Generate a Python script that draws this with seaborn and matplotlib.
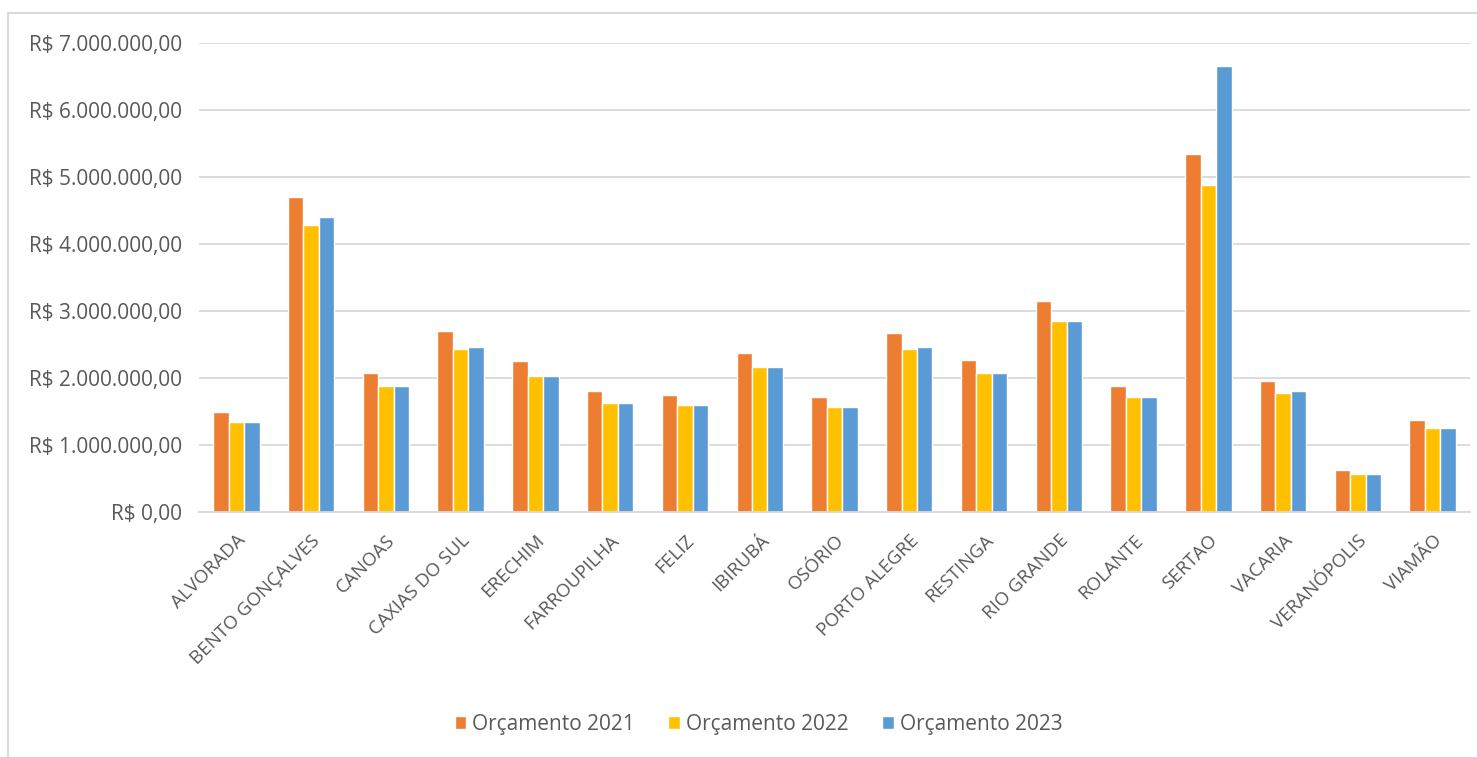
import pandas as pd
import seaborn as sns
import matplotlib.pyplot as plt
from matplotlib.lines import Line2D
from matplotlib.ticker import FuncFormatter

# Campus names and budgets (R$)
campus = ["ALVORADA", "BENTO GONÇALVES", "CANOAS", "CAXIAS DO SUL", "ERECHIM",
          "FARROUPILHA", "FELIZ", "IBIRUBÁ", "OSÓRIO", "PORTO ALEGRE",
          "RESTINGA", "RIO GRANDE", "ROLANTE", "SERTAO", "VACARIA",
          "VERANÓPOLIS", "VIAMÃO"]
orc_2021 = [1.50e6, 4.70e6, 2.07e6, 2.70e6, 2.25e6, 1.80e6, 1.74e6, 2.37e6, 1.71e6,
            2.67e6, 2.27e6, 3.15e6, 1.885e6, 5.35e6, 1.95e6, 0.63e6, 1.38e6]
orc_2022 = [1.34e6, 4.28e6, 1.885e6, 2.43e6, 2.03e6, 1.62e6, 1.59e6, 2.16e6, 1.56e6,
            2.43e6, 2.07e6, 2.85e6, 1.71e6, 4.88e6, 1.78e6, 0.57e6, 1.26e6]
orc_2023 = [1.35e6, 4.40e6, 1.885e6, 2.46e6, 2.03e6, 1.62e6, 1.59e6, 2.16e6, 1.56e6,
            2.46e6, 2.07e6, 2.85e6, 1.71e6, 6.65e6, 1.80e6, 0.57e6, 1.26e6]
series = ["Orçamento 2021", "Orçamento 2022", "Orçamento 2023"]
colors = ["#ED7D31", "#FFC000", "#5B9BD5"]

rows = []
for nome, vals in zip(series, [orc_2021, orc_2022, orc_2023]):
    for c, v in zip(campus, vals):
        rows.append({"Campus": c, "Orçamento": nome, "Valor": v})
df = pd.DataFrame(rows)

sns.set_style("white")
plt.rcParams['font.family'] = ['Open Sans', 'DejaVu Sans']
txt = "#595959"

fig = plt.figure(figsize=(14.77, 7.57), dpi=100)
ax = fig.add_axes([199 / 1477, 1 - 512 / 757, (1470 - 199) / 1477, (512 - 43) / 757])

sns.barplot(data=df, x="Campus", y="Valor", hue="Orçamento", palette=colors,
            saturation=1, width=0.62, edgecolor="white", linewidth=1, ax=ax)

ax.set_ylim(0, 7e6)
ax.set_yticks([i * 1e6 for i in range(8)])


def real(v, pos):
    s = f"{v:,.2f}".replace(",", "X").replace(".", ",").replace("X", ".")
    return "R$ " + s


ax.yaxis.set_major_formatter(FuncFormatter(real))
ax.grid(axis="y", color="#D9D9D9", linewidth=1.3)
ax.set_axisbelow(True)
for s in ["top", "right", "left"]:
    ax.spines[s].set_visible(False)
ax.spines["bottom"].set_color("#D9D9D9")
ax.spines["bottom"].set_linewidth(1.3)
ax.tick_params(axis="both", length=0, colors=txt)
ax.tick_params(axis="y", pad=12, labelsize=15)
ax.tick_params(axis="x", pad=14, labelsize=13.5)
ax.set_xlabel("")
ax.set_ylabel("")
plt.setp(ax.get_xticklabels(), rotation=45, ha="right", rotation_mode="anchor")

ax.legend(loc="upper center", bbox_to_anchor=(0.5 - 76 / 1271, -0.39), ncol=3,
          frameon=False, fontsize=15, handlelength=0.55, handleheight=0.55,
          handletextpad=0.3, columnspacing=1.6, labelcolor=txt)

# light frame on the left and top edges
fig.add_artist(Line2D([8 / 1477, 8 / 1477], [0, 1 - 13 / 757], color="#D9D9D9", lw=1.5,
                      transform=fig.transFigure))
fig.add_artist(Line2D([8 / 1477, 1], [1 - 13 / 757, 1 - 13 / 757], color="#D9D9D9", lw=1.5,
                      transform=fig.transFigure))

fig.savefig("out.png", dpi=100)
